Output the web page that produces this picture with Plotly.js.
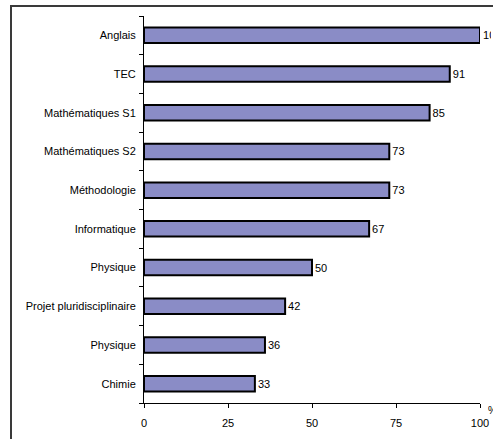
<!DOCTYPE html>
<html><head><meta charset="utf-8">
<script src="https://cdn.plot.ly/plotly-3.0.1.min.js"></script>
<style>
html,body{margin:0;padding:0;background:#fff;overflow:hidden;}
#chart{position:absolute;left:0;top:0;width:493px;height:439px;}
</style></head>
<body>
<div id="chart"></div>
<script>
var categories = ["Anglais","TEC","Mathématiques S1","Mathématiques S2","Méthodologie","Informatique","Physique","Projet pluridisciplinaire","Physique","Chimie"];
var values = [100, 91, 85, 73, 73, 67, 50, 42, 36, 33];
var xTicks = [0, 25, 50, 75, 100];

var n = categories.length;
var pos = categories.map(function(_, i){ return n - 1 - i; });
var boundaries = [];
for (var k = 0; k <= n; k++) boundaries.push(k - 0.5);

var trace = {
  type: 'bar', orientation: 'h',
  x: values, y: pos,
  width: 0.4,
  marker: {color: '#8a8cc6', line: {color: '#000', width: 2}},
  text: values.map(String),
  textposition: 'outside',
  constraintext: 'none',
  cliponaxis: false,
  textfont: {family: 'Liberation Sans, Arial, sans-serif', size: 11, color: '#000'},
  hoverinfo: 'none'
};

// plot area: x 144..480, y 16..403
var fx = function(px){ return (px - 144) / 336; };
var fy = function(py){ return (403 - py) / 387; };

var layout = {
  width: 493, height: 439,
  margin: {l: 144, r: 13, t: 16, b: 36},
  paper_bgcolor: '#fff', plot_bgcolor: 'rgba(0,0,0,0)',
  showlegend: false,
  font: {family: 'Liberation Sans, Arial, sans-serif', size: 11, color: '#000'},
  xaxis: {
    range: [0, 100], tickvals: xTicks, ticktext: xTicks.map(String),
    ticks: 'outside', ticklen: 4, tickcolor: '#000', tickwidth: 1,
    ticklabelstandoff: 6,
    showline: true, linecolor: '#000', linewidth: 1,
    showgrid: false, zeroline: false, fixedrange: true,
    tickfont: {size: 11}
  },
  yaxis: {
    range: [-0.5, n - 0.5], tickvals: pos, ticktext: categories,
    ticks: 'outside', ticklen: 4, tickcolor: 'rgba(0,0,0,0)',
    ticklabelstandoff: 1,
    minor: {tickvals: boundaries, ticks: 'outside', ticklen: 4, tickcolor: '#000', tickwidth: 1, showgrid: false},
    showline: true, linecolor: '#000', linewidth: 1,
    showgrid: false, zeroline: false, fixedrange: true,
    tickfont: {size: 11}
  },
  annotations: [{
    text: '%', xref: 'paper', yref: 'paper', x: fx(486), y: 0, yshift: 0,
    xanchor: 'left', yanchor: 'top', showarrow: false,
    font: {size: 10, color: '#000'}
  }],
  shapes: [
    {type: 'rect', xref: 'paper', yref: 'paper', layer: 'above',
     x0: fx(491), x1: fx(520), y0: fy(460), y1: fy(-10),
     fillcolor: '#fff', line: {width: 0, color: 'rgba(0,0,0,0)'}},
    {type: 'line', xref: 'paper', yref: 'paper', layer: 'above',
     x0: fx(11), x1: fx(11), y0: fy(5), y1: fy(460),
     line: {color: '#3a3a3a', width: 2}},
    {type: 'line', xref: 'paper', yref: 'paper', layer: 'above',
     x0: fx(10), x1: fx(520), y0: fy(6), y1: fy(6),
     line: {color: '#3a3a3a', width: 2}}
  ]
};

Plotly.newPlot('chart', [trace], layout, {displayModeBar: false, staticPlot: true});
</script>
</body></html>
